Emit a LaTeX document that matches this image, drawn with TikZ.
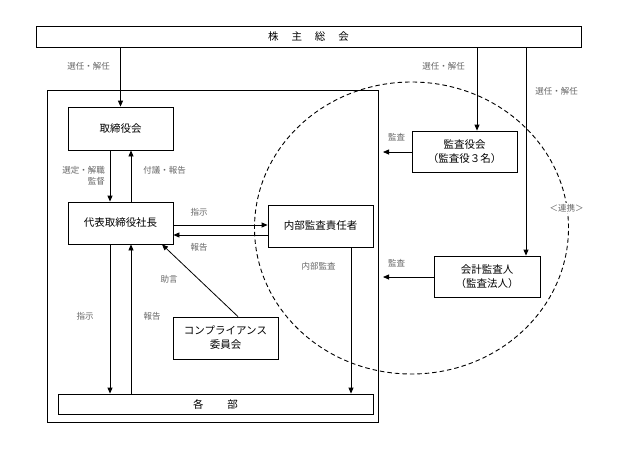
\documentclass[tikz,border=0pt]{standalone}
\usepackage{fontspec}
\newfontfamily\jp{Noto Sans CJK JP}
\usetikzlibrary{arrows.meta}
\begin{document}
\begin{tikzpicture}[x=1pt,y=-1pt,
  box/.style={draw=black,line width=0.8pt,fill=white,minimum width=105pt,minimum height=42pt,inner sep=0pt,font=\jp\fontsize{10.5}{14}\selectfont,align=center},
  lbl/.style={font=\jp\fontsize{8.5}{10}\selectfont,text=black!60,inner sep=0pt},
  arr/.style={line width=0.8pt,-{Triangle[length=6pt,width=5pt]}},
  circ/.style={dashed,dash pattern=on 4.5pt off 3pt,line width=0.9pt}]
\useasboundingbox (0,0) rectangle (633,456);
% outer frame
\node[draw=black,line width=0.8pt,minimum width=331pt,minimum height=332pt,inner sep=0pt] (outer) at (212.5,256) {};
% dashed ellipse
\draw[circ] (411.5,228) ellipse [x radius=157pt, y radius=146pt];
% boxes
\node[box,minimum width=545pt,minimum height=21pt] (top) at (308.5,36.5) {株\hspace{13pt}主\hspace{13pt}総\hspace{13pt}会};
\node[box,minimum height=43pt] (torishimari) at (120.5,128.5) {取締役会};
\node[box] (daihyo) at (120.5,223) {代表取締役社長};
\node[box] (naibu) at (320.5,226) {内部監査責任者};
\node[box] (compliance) at (225.5,338) {コンプライアンス\\委員会};
\node[box,minimum width=315pt,minimum height=20pt] (kakubu) at (215.5,404) {各\hspace{24pt}部};
\node[box,minimum height=41pt] (kansa) at (464.5,151.5) {監査役会\\（監査役３名）};
\node[box,minimum width=106pt,minimum height=41pt] (kaikei) at (487,276.5) {会計監査人\\（監査法人）};
% helper coordinates
\coordinate (c110) at (110,0);
\coordinate (c131) at (131,0);
\coordinate (c162) at (162,0);
\coordinate (c238) at (238,0);
\coordinate (c351) at (351,0);
\coordinate (c477) at (477,0);
\coordinate (c526) at (526,0);
\coordinate (r225) at (0,225);
\coordinate (r235) at (0,235);
\coordinate (k1) at (383,152);
\coordinate (k2) at (383,277);
% arrows
\draw[arr] (top.south -| torishimari.north) -- (torishimari.north);
\draw[arr] (top.south -| c477) -- (kansa.north -| c477);
\draw[arr] (top.south -| c526) -- (kaikei.north -| c526);
\draw[arr] (torishimari.south -| c110) -- (daihyo.north -| c110);
\draw[arr] (daihyo.north -| c131) -- (torishimari.south -| c131);
\draw[arr] (daihyo.south -| c110) -- (kakubu.north -| c110);
\draw[arr] (kakubu.north -| c131) -- (daihyo.south -| c131);
\draw[arr] (daihyo.east |- r225) -- (naibu.west |- r225);
\draw[arr] (naibu.west |- r235) -- (daihyo.east |- r235);
\draw[arr] (compliance.north -| c238) -- (daihyo.south -| c162);
\draw[arr] (naibu.south -| c351) -- (kakubu.north -| c351);
\draw[arr] (kansa.west |- k1) -- (k1);
\draw[arr] (kaikei.west |- k2) -- (k2);
% labels
\node[lbl] (l1) at (88.5,66) {選任・解任};
\node[lbl] (l2) at (443.5,66) {選任・解任};
\node[lbl] (l3) at (556.5,91) {選任・解任};
\node[lbl,anchor=east] (l4) at (105,170) {選定・解職};
\node[lbl,anchor=east] (l5) at (105,181) {監督};
\node[lbl] (l6) at (164.5,170) {付議・報告};
\node[lbl] (l7) at (199,212) {指示};
\node[lbl] (l8) at (199,247) {報告};
\node[lbl] (l9) at (169,279) {助言};
\node[lbl] (l10) at (85,316) {指示};
\node[lbl] (l11) at (152,316) {報告};
\node[lbl] (l12) at (318.5,266) {内部監査};
\node[lbl] (l13) at (396.5,137) {監査};
\node[lbl] (l14) at (396.5,263) {監査};
\node[lbl,fill=white,inner sep=1pt] (l15) at (566.5,208) {＜連携＞};
\end{tikzpicture}
\end{document}
